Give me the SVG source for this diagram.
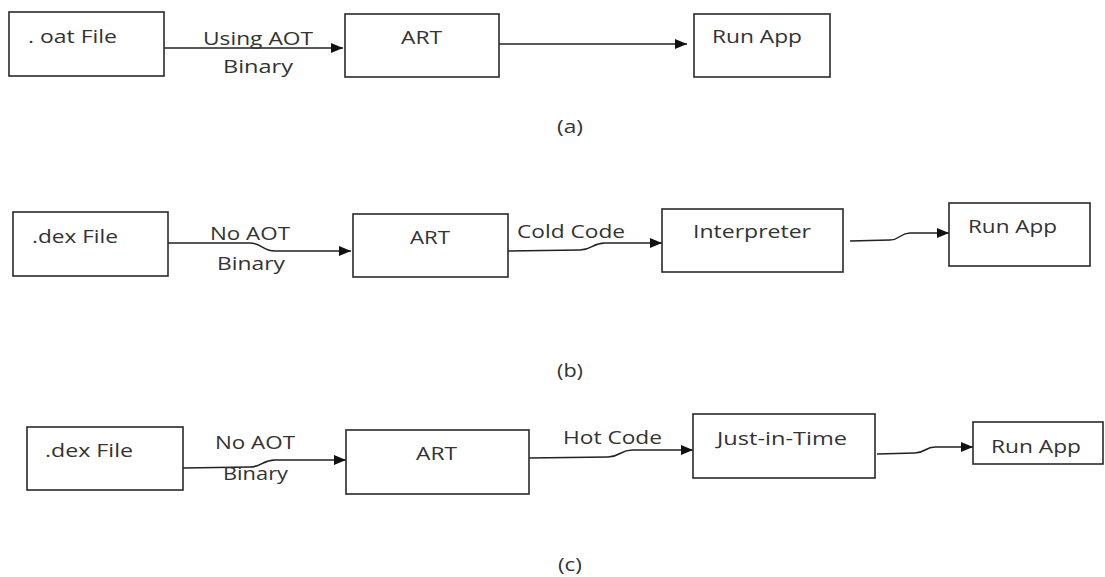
<svg xmlns="http://www.w3.org/2000/svg" width="1105" height="577" viewBox="0 0 1105 577">
<defs>
<style>
.box{fill:#fff;stroke:#2a2a2a;stroke-width:1.6}
.t{font-family:"Open Sans","DejaVu Sans",sans-serif;font-size:18px;fill:#333}
.c{fill:none;stroke:#222;stroke-width:1.5}
</style>
<marker id="ah" markerUnits="userSpaceOnUse" markerWidth="14" markerHeight="12" refX="12" refY="6" orient="auto">
<path d="M0,1 L12,6 L0,11 Z" fill="#111"/>
</marker>
</defs>
<rect width="1105" height="577" fill="#fff"/>

<g id="connectors">
<path class="c" d="M164,48 L343,48" marker-end="url(#ah)"/>
<path class="c" d="M499,44 L687,44" marker-end="url(#ah)"/>
<path class="c" d="M168,243 L250,243 C262,243 262,251 275,251 L351,251" marker-end="url(#ah)"/>
<path class="c" d="M508,251 L580,250 C592,250 592,243 605,243 L662,243" marker-end="url(#ah)"/>
<path class="c" d="M850,241 L890,240 C900,240 900,233 910,233 L949,233" marker-end="url(#ah)"/>
<path class="c" d="M183,468 L250,467 C262,467 262,460 275,460 L346,460" marker-end="url(#ah)"/>
<path class="c" d="M529,458 L608,457 C620,457 620,450 632,450 L693,450" marker-end="url(#ah)"/>
<path class="c" d="M877,454 L915,453 C925,453 925,447 935,447 L973,447" marker-end="url(#ah)"/>
</g>

<g id="labels">
<text class="t" x="203" y="45" textLength="110" lengthAdjust="spacingAndGlyphs">Using AOT</text>
<text class="t" x="223" y="73" textLength="70" lengthAdjust="spacingAndGlyphs">Binary</text>
<text class="t" x="210" y="240" textLength="80" lengthAdjust="spacingAndGlyphs">No AOT</text>
<text class="t" x="217" y="270" textLength="68" lengthAdjust="spacingAndGlyphs">Binary</text>
<text class="t" x="517" y="238" textLength="108" lengthAdjust="spacingAndGlyphs">Cold Code</text>
<text class="t" x="215" y="449" textLength="80" lengthAdjust="spacingAndGlyphs">No AOT</text>
<text class="t" x="223" y="480" textLength="65" lengthAdjust="spacingAndGlyphs">Binary</text>
<text class="t" x="563" y="444" textLength="99" lengthAdjust="spacingAndGlyphs">Hot Code</text>
<text class="t" x="557" y="133" textLength="26" lengthAdjust="spacingAndGlyphs">(a)</text>
<text class="t" x="557" y="377" textLength="26" lengthAdjust="spacingAndGlyphs">(b)</text>
<text class="t" x="558" y="571" textLength="24" lengthAdjust="spacingAndGlyphs">(c)</text>
</g>

<g id="a-oat">
<rect class="box" x="9" y="12" width="155" height="64"/>
<text class="t" x="28" y="43" textLength="89" lengthAdjust="spacingAndGlyphs">. oat File</text>
</g>
<g id="a-art">
<rect class="box" x="345" y="14" width="154" height="63"/>
<text class="t" x="401" y="44" textLength="41" lengthAdjust="spacingAndGlyphs">ART</text>
</g>
<g id="a-run">
<rect class="box" x="694" y="14" width="136" height="63"/>
<text class="t" x="712" y="43" textLength="90" lengthAdjust="spacingAndGlyphs">Run App</text>
</g>

<g id="b-dex">
<rect class="box" x="13" y="212" width="155" height="64"/>
<text class="t" x="32" y="243" textLength="86" lengthAdjust="spacingAndGlyphs">.dex File</text>
</g>
<g id="b-art">
<rect class="box" x="353" y="214" width="155" height="63"/>
<text class="t" x="410" y="244" textLength="40" lengthAdjust="spacingAndGlyphs">ART</text>
</g>
<g id="b-interp">
<rect class="box" x="662" y="209" width="181" height="63"/>
<text class="t" x="693" y="238" textLength="118" lengthAdjust="spacingAndGlyphs">Interpreter</text>
</g>
<g id="b-run">
<rect class="box" x="949" y="203" width="141" height="63"/>
<text class="t" x="968" y="233" textLength="89" lengthAdjust="spacingAndGlyphs">Run App</text>
</g>

<g id="c-dex">
<rect class="box" x="27" y="427" width="156" height="63"/>
<text class="t" x="45" y="457" textLength="88" lengthAdjust="spacingAndGlyphs">.dex File</text>
</g>
<g id="c-art">
<rect class="box" x="346" y="430" width="183" height="64"/>
<text class="t" x="416" y="460" textLength="41" lengthAdjust="spacingAndGlyphs">ART</text>
</g>
<g id="c-jit">
<rect class="box" x="693" y="414" width="182" height="64"/>
<text class="t" x="717" y="445" textLength="130" lengthAdjust="spacingAndGlyphs">Just-in-Time</text>
</g>
<g id="c-run">
<rect class="box" x="973" y="422" width="130" height="42"/>
<text class="t" x="991" y="453" textLength="90" lengthAdjust="spacingAndGlyphs">Run App</text>
</g>
</svg>
